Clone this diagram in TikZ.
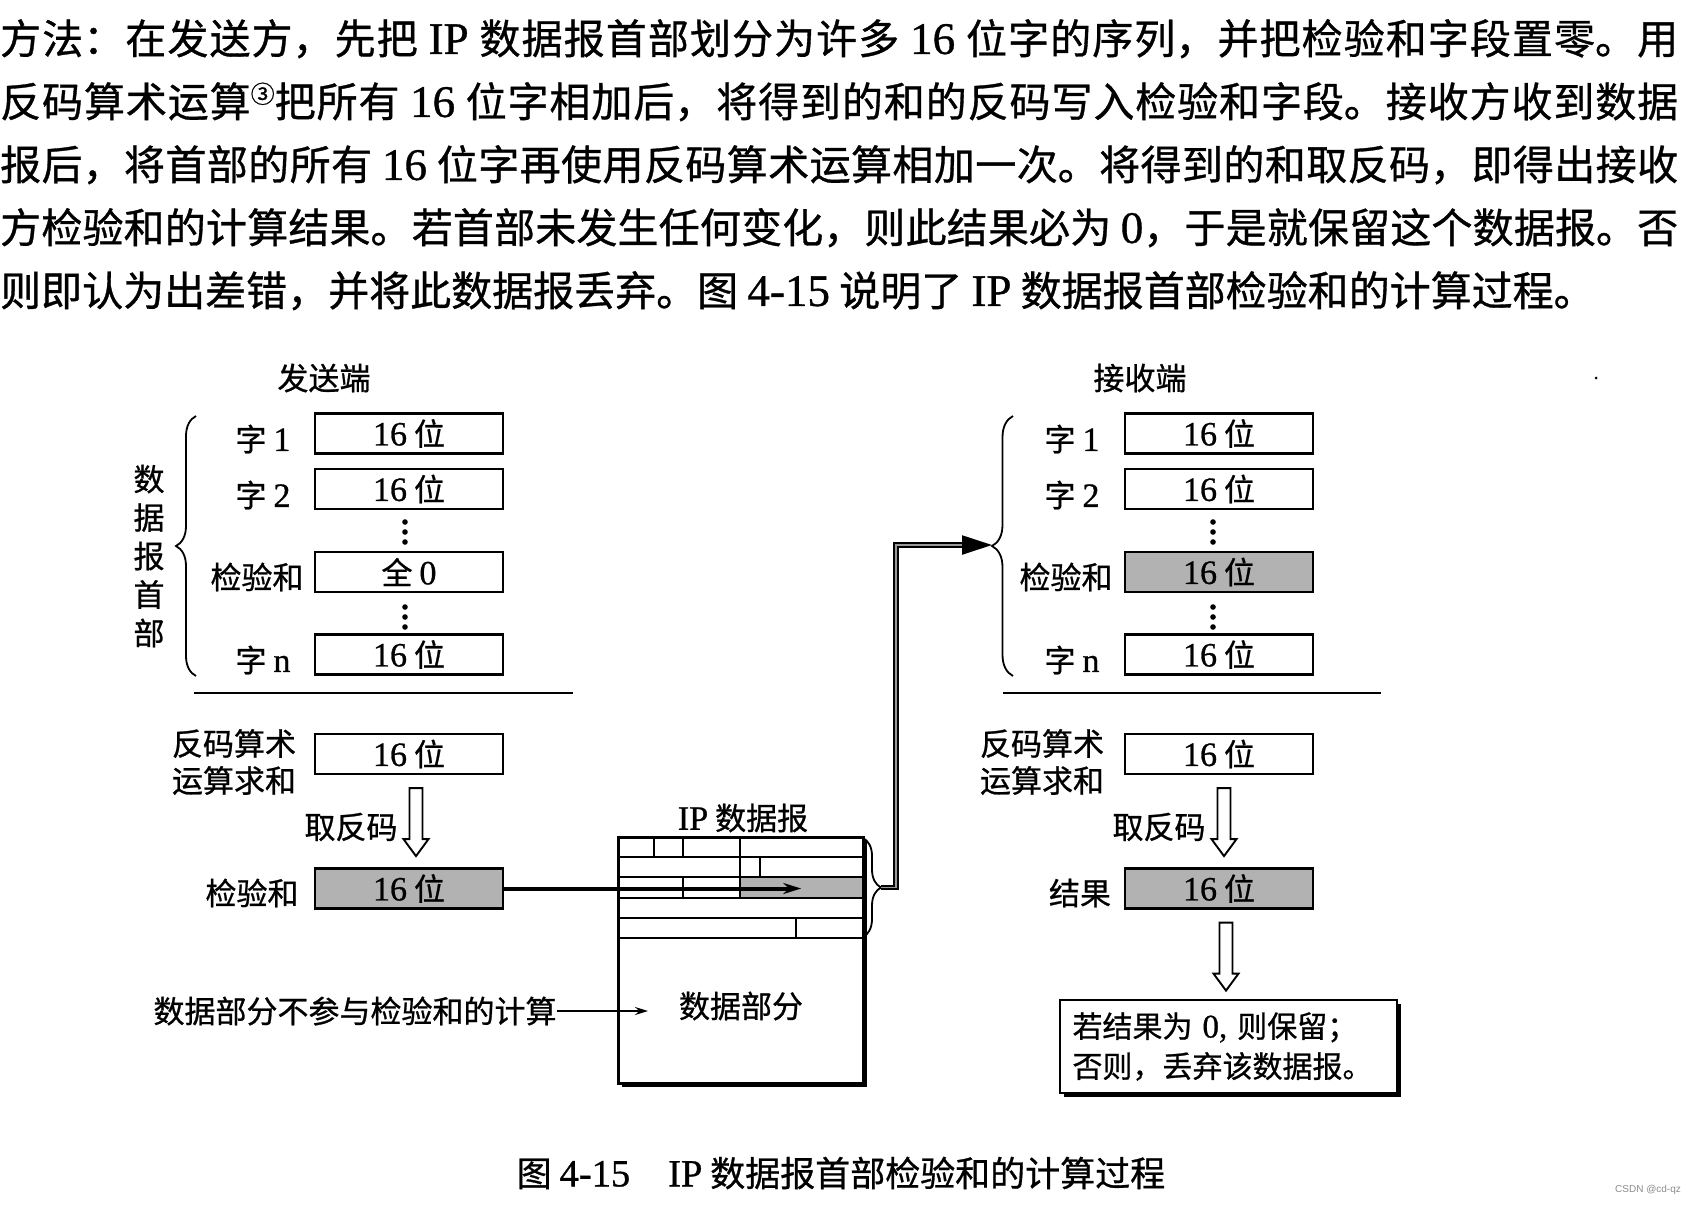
\documentclass[tikz,border=0pt]{standalone}
\usepackage{fontspec}
\setmainfont{Noto Sans CJK SC}[RawFeature={embolden=0.8}]
\newfontfamily\latinfont{Liberation Serif}[Scale=1.1, RawFeature={embolden=0.8}]
\newfontfamily\markfont{Liberation Sans}
\XeTeXlinebreaklocale "zh"
\XeTeXlinebreakskip=0pt plus 3pt
\usetikzlibrary{arrows.meta,positioning,calc,decorations.pathreplacing,shadows}
\newcommand\lat[1]{{\latinfont #1}}
\newcommand\dfont{\fontsize{31}{37}\selectfont}

\begin{document}
\begin{tikzpicture}[x=1pt, y=-1pt,
  word/.style={draw, line width=2.2pt, minimum width=188pt, minimum height=40pt, inner sep=0pt, font=\dfont},
  shaded/.style={word, fill=black!30},
  lbl/.style={font=\dfont, inner sep=0pt},
  thin/.style={line width=1.8pt, -{Stealth[length=13pt, width=8pt]}},
  feed/.style={line width=4pt, -{Stealth[length=18pt, width=11pt]}},
  relay/.style={double=black!40, double distance=1.2pt, line width=2.3pt},
  curly/.style={decorate, decoration={brace, amplitude=#1}, line width=1.8pt},
  framed/.style={draw, line width=2.8pt, fill=white, drop shadow={fill=black, opacity=1, shadow xshift=3.5pt, shadow yshift=-3.5pt}},
  hollow/.pic={\draw[line width=1.9pt, fill=white] (-6.5,0) -- (-6.5,51) -- (-12.5,51) -- (0,68) -- (12.5,51) -- (6.5,51) -- (6.5,0) -- cycle;},
]
\path[use as bounding box, fill=white] (0,0) rectangle (1694,1205);

% Text above the figure
\node[anchor=north west, inner sep=0pt, text width=1678pt, align=justify, font=\fontsize{41}{63}\selectfont] (para) at (0,19) {\noindent\tolerance=9999\relax 方法：在发送方，先把 \lat{IP} 数据报首部划分为许多 \lat{16} 位字的序列，并把检验和字段置零。用\linebreak 反码算术运算\raisebox{14pt}{\fontsize{24}{24}\selectfont ③}把所有 \lat{16} 位字相加后，将得到的和的反码写入检验和字段。接收方收到数据\linebreak 报后，将首部的所有 \lat{16} 位字再使用反码算术运算相加一次。将得到的和取反码，即得出接收\linebreak 方检验和的计算结果。若首部未发生任何变化，则此结果必为 \lat{0}，于是就保留这个数据报。否\linebreak 则即认为出差错，并将此数据报丢弃。图 \lat{4-15} 说明了 \lat{IP} 数据报首部检验和的计算过程。};

% Sender
\node[lbl] (snd) at (324,378) {发送端};
\node[word] (s1) at (409,433.5) {\lat{16} 位};
\node[word] (s2) at (409,489) {\lat{16} 位};
\node[word] (sz) at (409,572) {全 \lat{0}};
\node[word] (sn) at (409,654.5) {\lat{16} 位};
\node[lbl] (sl1) at (263,439) {字 \lat{1}};
\node[lbl] (sl2) at (263,495) {字 \lat{2}};
\node[lbl] (slz) at (257,577) {检验和};
\node[lbl] (sln) at (263,660) {字 \lat{n}};
\foreach \y in {522,532,542,607,617,627} \fill (405,\y) circle (2.8pt);
\draw[curly=20pt] (196,676) -- (196,416);
\node[lbl, align=center, font=\fontsize{31}{38.5}\selectfont] (shdr) at (149,556) {数\\据\\报\\首\\部};
\draw[line width=1.8pt] (194,693) -- (573,693);
\node[lbl, align=center] (ssuml) at (234,762) {反码算术\\运算求和};
\node[word] (ssum) at (409,754) {\lat{16} 位};
\pic at ($(ssum.south)+(7,13)$) {hollow};
\node[lbl] (sinv) at (351,827) {取反码};
\node[shaded] (scs) at (409,888.5) {\lat{16} 位};
\node[lbl] (scsl) at (252,893) {检验和};

% IP datagram
\node[lbl] (dlbl) at (743,818) {\lat{IP} 数据报};
\node[framed, minimum width=245pt, minimum height=246pt, inner sep=0pt, anchor=north west] (dgram) at (617,836) {};
\node[fill=black!30, minimum width=122pt, minimum height=20.5pt, inner sep=0pt, anchor=north west] (dcs) at (740,877.5) {};
\foreach \y in {857,877,898,918,938} \draw[line width=1.8pt] (617,\y) -- (862,\y);
\draw[line width=1.8pt] (654,836) -- (654,857) (683,836) -- (683,857) (740,836) -- (740,877)
  (760,857) -- (760,877) (683,877) -- (683,898) (740,877) -- (740,898) (796,918) -- (796,938);
\node[lbl] (dpart) at (741,1006) {数据部分};
\draw[curly=18pt] (863,838) -- (863,937);
\coordinate (dtip) at (881,887.5);
\node[lbl] (dnote) at (355,1011) {数据部分不参与检验和的计算};
\coordinate (dhead) at (648,1011);
\draw[thin] (dnote.east) -- (dhead);
\draw[feed] (scs.east) -- (scs.east -| dcs.center);

% Receiver
\node[lbl] (rcv) at (1140,378) {接收端};
\fill (1596,378) circle (1.5pt);
\node[word] (r1) at (1219,433.5) {\lat{16} 位};
\node[word] (r2) at (1219,489) {\lat{16} 位};
\node[shaded] (rz) at (1219,572) {\lat{16} 位};
\node[word] (rn) at (1219,654.5) {\lat{16} 位};
\node[lbl] (rl1) at (1072,439) {字 \lat{1}};
\node[lbl] (rl2) at (1072,495) {字 \lat{2}};
\node[lbl] (rlz) at (1066,577) {检验和};
\node[lbl] (rln) at (1072,660) {字 \lat{n}};
\foreach \y in {522,532,542,607,617,627} \fill (1213,\y) circle (2.8pt);
\draw[curly=21pt] (1013,676) -- (1013,416);
\coordinate (rtip) at (992,545);
\draw[line width=1.8pt] (1003,693) -- (1381,693);
\node[lbl, align=center] (rsuml) at (1042,762) {反码算术\\运算求和};
\node[word] (rsum) at (1219,754) {\lat{16} 位};
\pic at ($(rsum.south)+(5,13)$) {hollow};
\node[lbl] (rinv) at (1159,827) {取反码};
\node[shaded] (rres) at (1219,888.5) {\lat{16} 位};
\node[lbl] (rresl) at (1080,893) {结果};
\pic at ($(rres.south)+(7,13)$) {hollow};
\node[framed, text width=312pt, inner xsep=12.5pt, inner ysep=0pt, minimum height=93pt, align=left, font=\fontsize{30}{40}\selectfont] (rdec) at (1228.5,1046.5) {若结果为 \lat{0,} 则保留；\\否则，丢弃该数据报。};

% Datagram to receiver
\draw[relay, -{Triangle[length=30pt, width=19pt]}] (dtip) -- ++(15,0) |- (rtip);

% Caption
\node[inner sep=0pt, font=\fontsize{35}{40}\selectfont] (cap) at (841,1173) {图 \lat{4-15}\hspace{38pt}\lat{IP} 数据报首部检验和的计算过程};
\node[inner sep=0pt, font=\markfont\fontsize{10}{12}\selectfont, text=black!45] (mark) at (1648,1190) {CSDN @cd-qz};
\end{tikzpicture}
\end{document}
